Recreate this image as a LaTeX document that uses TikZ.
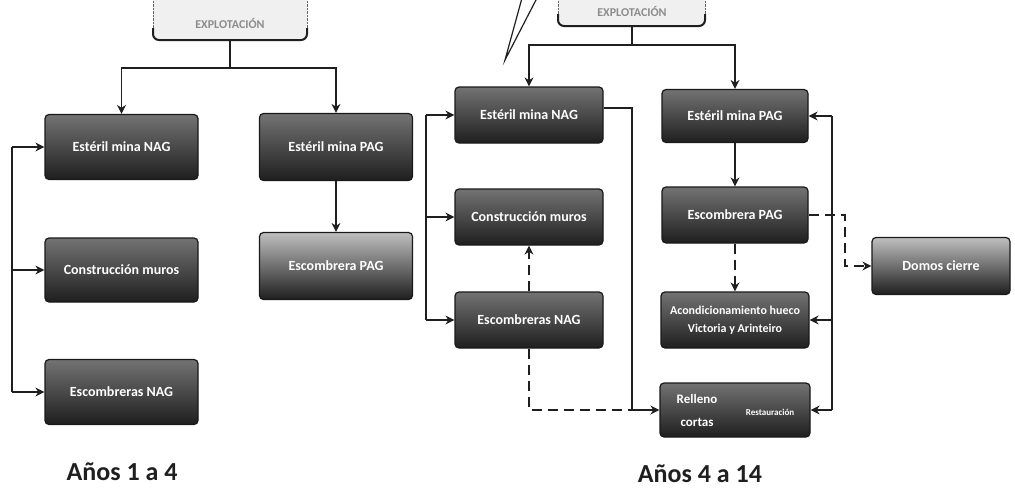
\documentclass[tikz,border=0pt]{standalone}
\usepackage{fontspec}
\setmainfont{Carlito}
\usetikzlibrary{arrows.meta}
\begin{document}
\begin{tikzpicture}[x=1pt,y=-1pt,
  ln/.style={line width=1.8pt, draw=black!88},
  arr/.style={ln, -{Stealth[length=9pt,width=9pt]}},
  dsh/.style={dash pattern=on 10pt off 6pt},
  darkbox/.style={draw=black!90, line width=1.2pt, rounded corners=4pt,
    top color=black!55, middle color=black!85, bottom color=black!88,
    text=white, font=\bfseries\fontsize{14}{15}\selectfont, align=center, inner sep=2pt},
  bigbox/.style={darkbox, minimum width=153pt, minimum height=65pt},
  smallbox/.style={darkbox, minimum width=148pt, minimum height=56pt},
  toptext/.style={text=black!45, font=\bfseries\fontsize{12}{13}\selectfont},
  yrs/.style={font=\bfseries\fontsize{26}{28}\selectfont, text=black!88}
]
\useasboundingbox (0,0) rectangle (1015,490);
\fill[white] (0,0) rectangle (1015,490);

% top boxes
\fill[black!6, rounded corners=6pt] (153,-10) rectangle (307,40);
\draw[line width=2pt, black!88, rounded corners=6pt] (153,28) -- (153,40) -- (307,40) -- (307,28);
\draw[densely dotted, black!60] (153,-2) -- (153,28) (307,-2) -- (307,28);
\node[toptext] (topL) at (230,24) {EXPLOTACIÓN};
\coordinate (topLb) at (230,40);

\fill[black!6, rounded corners=6pt] (558,-10) rectangle (705,26);
\draw[line width=2pt, black!88, rounded corners=6pt] (558,14) -- (558,26) -- (705,26) -- (705,14);
\draw[densely dotted, black!60] (558,-2) -- (558,14) (705,-2) -- (705,14);
\node[toptext] (topR) at (632,12) {EXPLOTACIÓN};
\coordinate (topRb) at (632,26);

% callout tail
\draw[line width=1.2pt, black!88] (522,-2) -- (505,60) -- (537,-2);

% left group
\node[bigbox] (eNAG1) at (121.5,147) {Estéril mina NAG};
\node[bigbox, minimum height=64pt] (cm1) at (121.5,270) {Construcción muros};
\node[bigbox] (escNAG1) at (121.5,392) {Escombreras NAG};
\node[bigbox, minimum height=67pt] (ePAG1) at (336,147) {Estéril mina PAG};
\node[bigbox, minimum height=67pt, top color=black!25] (escPAG1) at (336,266) {Escombrera PAG};

% right group
\node[smallbox] (eNAG2) at (529,115) {Estéril mina NAG};
\node[smallbox] (cm2) at (529,217) {Construcción muros};
\node[smallbox] (escNAG2) at (529,320) {Escombreras NAG};
\node[smallbox, minimum width=146pt, minimum height=53pt] (ePAG2) at (735,116) {Estéril mina PAG};
\node[smallbox, minimum width=146pt] (escPAG2) at (735,215) {Escombrera PAG};
\node[smallbox, font=\bfseries\fontsize{12}{18}\selectfont] (acond) at (735,320) {Acondicionamiento hueco\\Victoria y Arinteiro};
\node[smallbox, minimum width=150pt, minimum height=54pt] (rel) at (735,410) {};
\node[text=white, font=\bfseries\fontsize{13}{23}\selectfont, align=center] (relT) at (697,410) {Relleno\\cortas};
\node[text=white, font=\bfseries\fontsize{9}{10}\selectfont] (resT) at (770,412) {Restauración};
\node[darkbox, minimum width=138pt, minimum height=57pt, top color=black!25] (domos) at (941,266) {Domos cierre};

% labels
\node[yrs] (y1) at (122,472) {Años 1 a 4};
\node[yrs] (y2) at (700,474) {Años 4 a 14};

% left connectors
\coordinate (jL) at (230,68);
\draw[ln] (topLb) -- (jL);
\draw[arr] (jL) -| (eNAG1.north);
\draw[arr] (jL) -| (ePAG1.north);
\coordinate (bL) at (12,0);
\draw[ln] (bL |- eNAG1.west) -- (bL |- escNAG1.west);
\foreach \n in {eNAG1,cm1,escNAG1} \draw[arr] (bL |- \n.west) -- (\n.west);
\draw[arr] (ePAG1.south) -- (escPAG1.north);

% right connectors
\coordinate (jR) at (632,45);
\draw[ln] (topRb) -- (jR);
\draw[arr] (jR) -| (eNAG2.north);
\draw[arr] (jR) -| (ePAG2.north);
\coordinate (bR) at (426,0);
\draw[ln] (bR |- eNAG2.west) -- (bR |- escNAG2.west);
\foreach \n in {eNAG2,cm2,escNAG2} \draw[arr] (bR |- \n.west) -- (\n.west);
\draw[arr, dsh] (escNAG2.north) -- (cm2.south);
\coordinate (cR) at (632,410);
\draw[ln, dsh] (escNAG2.south) |- (cR);
\draw[ln] ([yshift=7pt]eNAG2.east) -| (cR);
\draw[arr] (cR) -- (rel.west);
\draw[arr] (ePAG2.south) -- (escPAG2.north);
\draw[arr, dsh] (escPAG2.south) -- (acond.north);
\coordinate (bR2) at (832,0);
\draw[ln] (bR2 |- ePAG2.east) -- (bR2 |- rel.east);
\foreach \n in {ePAG2,acond,rel} \draw[arr] (bR2 |- \n.east) -- (\n.east);
\coordinate (dk) at (845,0);
\draw[arr, dsh] (escPAG2.east) -- (dk |- escPAG2.east) -- (dk |- domos.west) -- (domos.west);
\end{tikzpicture}
\end{document}
